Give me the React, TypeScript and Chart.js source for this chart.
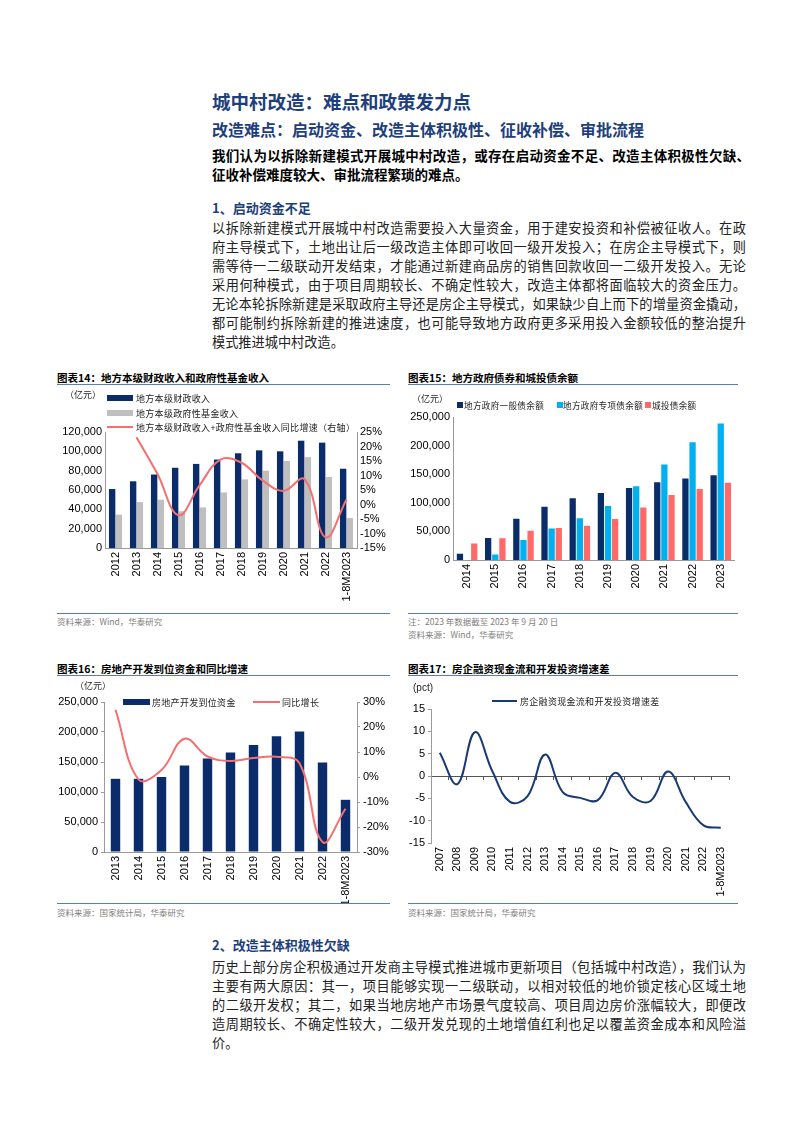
import React, { useEffect, useRef } from "react";
import { Chart, registerables } from "chart.js";
Chart.register(...registerables);

// ---------- DATA ----------
const c14Categories = ["2012", "2013", "2014", "2015", "2016", "2017", "2018", "2019", "2020", "2021", "2022", "1-8M2023"];
const c14Fiscal = [61000, 69000, 76000, 83000, 87000, 91500, 98000, 101000, 100000, 111000, 109000, 82000];
const c14Fund = [34500, 47500, 50000, 38000, 42000, 57500, 71000, 80000, 90000, 94000, 73500, 31000];
const c14Growth = [null, 23.2, 10.5, -3.7, 6.6, 15.5, 14.4, 8.3, 4.7, 8.7, -11.3, 1.7];

const c15Categories = ["2014", "2015", "2016", "2017", "2018", "2019", "2020", "2021", "2022", "2023"];
const c15General = [11000, 38500, 72000, 93000, 108000, 117000, 126000, 136000, 142500, 148000];
const c15Special = [null, 9500, 35000, 55000, 73000, 94500, 129000, 167000, 206000, 238500];
const c15Lgfv = [29000, 38000, 51000, 56000, 60000, 71500, 92000, 113500, 124000, 135000];

const c16Categories = ["2013", "2014", "2015", "2016", "2017", "2018", "2019", "2020", "2021", "2022", "1-8M2023"];
const c16Funds = [122000, 122000, 125000, 144000, 156000, 166000, 178500, 193000, 201000, 149000, 87000];
const c16Growth = [26.9, -1.0, 2.8, 15.3, 8.2, 6.4, 7.6, 8.1, 5.5, -26.0, -12.7];

const c17Categories = ["2007", "2008", "2009", "2010", "2011", "2012", "2013", "2014", "2015", "2016", "2017", "2018", "2019", "2020", "2021", "2022", "1-8M2023"];
const c17Spread = [5.2, -1.8, 9.8, 1.0, -5.8, -4.5, 4.8, -3.6, -4.9, -5.4, 0.7, -4.7, -5.6, 1.0, -5.8, -11.0, -11.6];

// ---------- STYLE ----------
const CJK = '"Noto Sans CJK SC", "Noto Sans", sans-serif';
const NUM = '"Liberation Sans", Arial, sans-serif';
const NAVY = "#0b2c6b";
const GRAY = "#bfbfbf";
const RED_LINE = "#f46f6f";
const LIGHT_BLUE = "#00b0f0";
const RED_BAR = "#ff6969";
const TITLE_BLUE = "#1d3f7c";
const RULE = "#5a7db3";
const AXIS = "#9a9a9a";
const tickFont = { family: NUM, size: 11 };

const fmtNum = (v: any) => Number(v).toLocaleString("en-US");
const fmtPct = (v: any) => `${v}%`;

function ChartCanvas({ left, top, width, height, config }: any) {
  const ref = useRef<HTMLCanvasElement | null>(null);
  useEffect(() => {
    if (!ref.current) return;
    const ch = new Chart(ref.current, config);
    return () => ch.destroy();
  }, []);
  return (
    <canvas
      ref={ref}
      width={width}
      height={height}
      style={{ position: "absolute", left, top, width, height }}
    />
  );
}

function T({ x, y, size = 13.5, bold = false, color = "#222", width, justify = false, family = CJK, children, spacing = 0 }: any) {
  const lh = Math.round(size * 1.4);
  const style: any = {
    position: "absolute",
    left: x,
    top: y - lh / 2,
    fontSize: size,
    lineHeight: `${lh}px`,
    fontWeight: bold ? 700 : 400,
    color,
    fontFamily: family,
    letterSpacing: spacing,
  };
  if (justify) {
    style.width = width;
    style.textAlign = "justify";
    style.textAlignLast = "justify";
  } else {
    style.whiteSpace = "nowrap";
  }
  return <div style={style}>{children}</div>;
}

function Rule({ x, y, w }: any) {
  return <div style={{ position: "absolute", left: x, top: y, width: w, height: 1, background: RULE }} />;
}

function Swatch({ x, y, w, h, color }: any) {
  return <div style={{ position: "absolute", left: x, top: y - h / 2, width: w, height: h, background: color }} />;
}

// ---------- CHART CONFIGS ----------
const baseOpts = (padTop: number) => ({
  animation: false,
  responsive: false,
  maintainAspectRatio: false,
  layout: { padding: { top: padTop, left: 0, right: 0, bottom: 0 } },
  plugins: { legend: { display: false }, tooltip: { enabled: false } },
});

const xCat = (h: number, extra: any = {}) => ({
  grid: { display: false, drawTicks: false },
  border: { color: AXIS },
  ticks: { minRotation: 90, maxRotation: 90, autoSkip: false, font: tickFont, color: "#000", padding: 4 },
  afterFit: (s: any) => { s.height = h; },
  ...extra,
});

const yAxis = (pos: string, w: number, min: number, max: number, step: number, cb: any, ticks = false) => ({
  position: pos,
  min,
  max,
  grid: ticks
    ? { display: true, drawOnChartArea: false, drawTicks: true, tickLength: 3, color: AXIS }
    : { display: false, drawTicks: false },
  border: { color: AXIS },
  ticks: { stepSize: step, callback: cb, font: tickFont, color: "#000", padding: 3, autoSkip: false },
  afterFit: (s: any) => { s.width = w; },
});

const config14: any = {
  type: "bar",
  data: {
    labels: c14Categories,
    datasets: [
      { type: "line", data: c14Growth, yAxisID: "y1", borderColor: RED_LINE, borderWidth: 2, pointRadius: 0, tension: 0.4, order: 0 },
      { type: "bar", data: c14Fiscal, yAxisID: "y", backgroundColor: NAVY, categoryPercentage: 0.64, barPercentage: 0.95, order: 1 },
      { type: "bar", data: c14Fund, yAxisID: "y", backgroundColor: GRAY, categoryPercentage: 0.64, barPercentage: 0.95, order: 1 },
    ],
  },
  options: {
    ...baseOpts(46),
    scales: {
      x: xCat(64),
      y: yAxis("left", 48, 0, 120000, 20000, fmtNum),
      y1: yAxis("right", 33, -15, 25, 5, fmtPct),
    },
  },
};

const config15: any = {
  type: "bar",
  data: {
    labels: c15Categories,
    datasets: [
      { data: c15General, backgroundColor: NAVY, categoryPercentage: 0.76, barPercentage: 0.88 },
      { data: c15Special, backgroundColor: LIGHT_BLUE, categoryPercentage: 0.76, barPercentage: 0.88 },
      { data: c15Lgfv, backgroundColor: RED_BAR, categoryPercentage: 0.76, barPercentage: 0.88 },
    ],
  },
  options: {
    ...baseOpts(31),
    layout: { padding: { top: 31, left: 0, right: 1, bottom: 0 } },
    scales: {
      x: xCat(53),
      y: yAxis("left", 45, 0, 250000, 50000, fmtNum),
    },
  },
};

const config16: any = {
  type: "bar",
  data: {
    labels: c16Categories,
    datasets: [
      { type: "line", data: c16Growth, yAxisID: "y1", borderColor: RED_LINE, borderWidth: 2, pointRadius: 0, tension: 0.4, order: 0 },
      { type: "bar", data: c16Funds, yAxisID: "y", backgroundColor: NAVY, categoryPercentage: 1, barPercentage: 0.41, order: 1 },
    ],
  },
  options: {
    ...baseOpts(25),
    scales: {
      x: xCat(51),
      y: yAxis("left", 47, 0, 250000, 50000, fmtNum, true),
      y1: yAxis("right", 33, -30, 30, 10, fmtPct, true),
    },
  },
};

const config17: any = {
  type: "line",
  data: {
    labels: c17Categories,
    datasets: [
      { data: c17Spread, xAxisID: "x", borderColor: "#1a3a75", borderWidth: 2, pointRadius: 0, tension: 0.4 },
    ],
  },
  options: {
    ...baseOpts(32),
    layout: { padding: { top: 32, left: 0, right: 1, bottom: 0 } },
    scales: {
      x: xCat(60, { offset: true, border: { display: false } }),
      x2: {
        type: "category",
        position: { y: 0 },
        offset: true,
        grid: { display: true, drawOnChartArea: false, drawTicks: true, tickLength: 3, color: "#555", offset: true },
        border: { display: true, color: "#555" },
        ticks: { display: false },
      },
      y: yAxis("left", 23, -15, 15, 5, (v: any) => `${v}`, true),
    },
  },
};

// ---------- TEXT ----------
const bodyW = 534;
const sec1Lines = [
  "以拆除新建模式开展城中村改造需要投入大量资金，用于建安投资和补偿被征收人。在政",
  "府主导模式下，土地出让后一级改造主体即可收回一级开发投入；在房企主导模式下，则",
  "需等待一二级联动开发结束，才能通过新建商品房的销售回款收回一二级开发投入。无论",
  "采用何种模式，由于项目周期较长、不确定性较大，改造主体都将面临较大的资金压力。",
  "无论本轮拆除新建是采取政府主导还是房企主导模式，如果缺少自上而下的增量资金撬动，",
  "都可能制约拆除新建的推进速度，也可能导致地方政府更多采用投入金额较低的整治提升",
  "模式推进城中村改造。",
];
const sec2Lines = [
  "历史上部分房企积极通过开发商主导模式推进城市更新项目（包括城中村改造），我们认为",
  "主要有两大原因：其一，项目能够实现一二级联动，以相对较低的地价锁定核心区域土地",
  "的二级开发权；其二，如果当地房地产市场景气度较高、项目周边房价涨幅较大，即便改",
  "造周期较长、不确定性较大，二级开发兑现的土地增值红利也足以覆盖资金成本和风险溢",
  "价。",
];

export default function App() {
  const small = 9;
  return (
    <div style={{ position: "absolute", left: 0, top: 0, width: 794, height: 1123, background: "#fff", overflow: "hidden" }}>
      <T x={212} y={101} size={18.5} bold color={TITLE_BLUE}>城中村改造：难点和政策发力点</T>
      <T x={212} y={129} size={16} bold color={TITLE_BLUE}>改造难点：启动资金、改造主体积极性、征收补偿、审批流程</T>
      <T x={212} y={155} size={13.5} bold color="#000" justify width={538}>我们认为以拆除新建模式开展城中村改造，或存在启动资金不足、改造主体积极性欠缺、</T>
      <T x={212} y={174} size={13.5} bold color="#000">征收补偿难度较大、审批流程繁琐的难点。</T>
      <T x={212} y={208} size={13} bold color={TITLE_BLUE}>1、启动资金不足</T>
      {sec1Lines.map((l, i) => (
        <T key={i} x={212} y={228 + i * 19} size={13.2} justify={i < sec1Lines.length - 1} width={bodyW}>{l}</T>
      ))}

      {/* Chart 14 */}
      <T x={57} y={377} size={10.5} bold color="#000">图表14：地方本级财政收入和政府性基金收入</T>
      <Rule x={57} y={384} w={333} />
      <ChartCanvas left={57} top={386} width={333} height={226} config={config14} />
      <T x={65} y={394} size={small} color="#222">（亿元）</T>
      <Swatch x={107} y={398} w={26} h={6} color={NAVY} />
      <T x={136} y={398} size={small} spacing={0.3}>地方本级财政收入</T>
      <Swatch x={107} y={413} w={26} h={6} color={GRAY} />
      <T x={136} y={413} size={small} spacing={0.3}>地方本级政府性基金收入</T>
      <Swatch x={107} y={427} w={26} h={2} color={RED_LINE} />
      <T x={136} y={427} size={small} spacing={0.3}>地方本级财政收入+政府性基金收入同比增速（右轴）</T>
      <Rule x={57} y={613} w={333} />
      <T x={57} y={621} size={8.5} color="#808080">资料来源：Wind，华泰研究</T>

      {/* Chart 15 */}
      <T x={408} y={377} size={10.5} bold color="#000">图表15：地方政府债券和城投债余额</T>
      <Rule x={408} y={384} w={330} />
      <ChartCanvas left={408} top={386} width={330} height={227} config={config15} />
      <T x={412} y={398} size={small} color="#222">（亿元）</T>
      <Swatch x={457} y={405} w={6} h={6} color={NAVY} />
      <T x={464} y={405} size={8.6} spacing={0.3}>地方政府一般债余额</T>
      <Swatch x={557} y={405} w={6} h={6} color={LIGHT_BLUE} />
      <T x={563} y={405} size={8.6} spacing={0.3}>地方政府专项债余额</T>
      <Swatch x={645} y={405} w={6} h={6} color={RED_BAR} />
      <T x={652} y={405} size={8.6} spacing={0.3}>城投债余额</T>
      <Rule x={408} y={613} w={330} />
      <T x={408} y={621} size={8.5} color="#808080">注：2023 年数据截至 2023 年 9 月 20 日</T>
      <T x={408} y={634} size={8.5} color="#808080">资料来源：Wind，华泰研究</T>

      {/* Chart 16 */}
      <T x={57} y={668} size={10.5} bold color="#000">图表16：房地产开发到位资金和同比增速</T>
      <Rule x={57} y={675} w={333} />
      <ChartCanvas left={57} top={677} width={333} height={226} config={config16} />
      <T x={75} y={685} size={small} color="#222">（亿元）</T>
      <Swatch x={123} y={702} w={27} h={6} color={NAVY} />
      <T x={152} y={702} size={small} spacing={0.3}>房地产开发到位资金</T>
      <Swatch x={253} y={702} w={27} h={2} color={RED_LINE} />
      <T x={282} y={702} size={small} spacing={0.3}>同比增长</T>
      <Rule x={57} y={903} w={333} />
      <T x={57} y={912} size={8.5} color="#808080">资料来源：国家统计局，华泰研究</T>

      {/* Chart 17 */}
      <T x={408} y={668} size={10.5} bold color="#000">图表17：房企融资现金流和开发投资增速差</T>
      <Rule x={408} y={675} w={330} />
      <ChartCanvas left={408} top={677} width={330} height={226} config={config17} />
      <T x={413} y={688} size={10} family={NUM} color="#222">(pct)</T>
      <Swatch x={492} y={701} w={25} h={2} color="#1a3a75" />
      <T x={520} y={701} size={small} spacing={0.3}>房企融资现金流和开发投资增速差</T>
      <Rule x={408} y={903} w={330} />
      <T x={408} y={912} size={8.5} color="#808080">资料来源：国家统计局，华泰研究</T>

      <T x={212} y={945} size={13} bold color={TITLE_BLUE}>2、改造主体积极性欠缺</T>
      {sec2Lines.map((l, i) => (
        <T key={i} x={212} y={967 + i * 19} size={13.2} justify={i < sec2Lines.length - 1} width={bodyW}>{l}</T>
      ))}
    </div>
  );
}
